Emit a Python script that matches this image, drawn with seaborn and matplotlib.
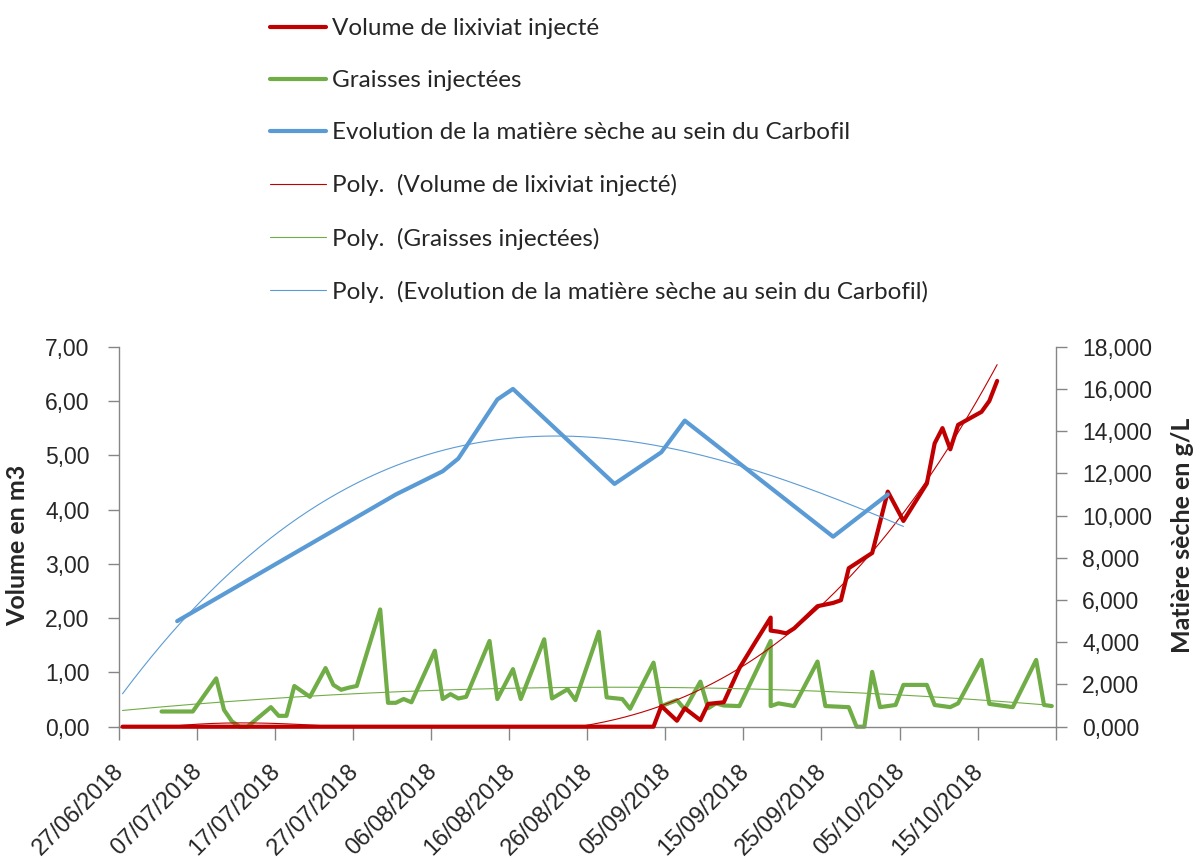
import numpy as np
import pandas as pd
import matplotlib
matplotlib.use("Agg")
import matplotlib.pyplot as plt
import matplotlib.transforms as mtransforms
from matplotlib.lines import Line2D
import seaborn as sns

# ---------------- data ----------------
START = "2018-06-27"

# Graisses injectées (m3) : day offset from 27/06/2018, value
graisses_days = [5, 9, 12, 13, 14, 15, 16, 19, 20, 21, 22, 24, 26, 27, 28, 29, 30,
                 33, 34, 35, 36, 37, 40, 41, 42, 43, 44, 47, 48, 50, 51, 54, 55, 57,
                 58, 61, 62, 64, 65, 68, 69, 71, 72, 74, 75, 76, 77, 79, 83, 83, 84,
                 86, 89, 90, 93, 94, 95, 96, 97, 99, 100, 103, 104, 106, 107, 110,
                 111, 112, 114, 117, 118, 119]
graisses_vals = [0.28, 0.28, 0.89, 0.31, 0.10, 0.00, 0.00, 0.36, 0.20, 0.20, 0.75,
                 0.55, 1.08, 0.77, 0.68, 0.72, 0.75, 2.16, 0.44, 0.44, 0.51, 0.45,
                 1.40, 0.51, 0.60, 0.52, 0.55, 1.58, 0.51, 1.06, 0.51, 1.61, 0.52,
                 0.69, 0.49, 1.75, 0.54, 0.51, 0.33, 1.18, 0.38, 0.49, 0.32, 0.83,
                 0.34, 0.43, 0.39, 0.38, 1.58, 0.38, 0.43, 0.38, 1.20, 0.38, 0.36,
                 0.00, 0.00, 1.01, 0.36, 0.40, 0.77, 0.77, 0.40, 0.36, 0.43, 1.23,
                 0.42, 0.40, 0.36, 1.23, 0.40, 0.38]

# Volume de lixiviat injecté (m3)
lixiviat_days = [0, 5, 9, 12, 13, 14, 15, 16, 19, 20, 21, 22, 24, 26, 27, 28, 29, 30,
                 33, 34, 35, 36, 37, 40, 41, 42, 43, 44, 47, 48, 50, 51, 54, 55, 57,
                 58, 61, 62, 64, 65, 68, 69, 71, 72, 74, 75, 77, 79, 81, 83, 83, 84,
                 85, 86, 89, 91, 92, 93, 96, 98, 100, 103, 104, 105, 106, 107, 110,
                 111, 112]
lixiviat_vals = [0.0] * 41 + [0.38, 0.11, 0.34, 0.12, 0.42, 0.45, 1.08, 1.55, 2.01,
                              1.77, 1.75, 1.72, 1.81, 2.22, 2.28, 2.33, 2.92, 3.20,
                              4.33, 3.79, 4.48, 5.22, 5.50, 5.11, 5.56, 5.80, 6.00,
                              6.37]

# Evolution de la matière sèche au sein du Carbofil (g/L)
ms_days = [7, 35, 41, 43, 48, 50, 63, 69, 72, 91, 98]
ms_vals = [5000, 11000, 12100, 12700, 15500, 16000, 11500, 13000, 14500, 9000, 11000]

LEFT_TICKS = [0, 1, 2, 3, 4, 5, 6, 7]
LEFT_TICK_LABELS = ["0,00", "1,00", "2,00", "3,00", "4,00", "5,00", "6,00", "7,00"]
RIGHT_TICKS = [0, 2000, 4000, 6000, 8000, 10000, 12000, 14000, 16000, 18000]
RIGHT_TICK_LABELS = ["0,000", "2,000", "4,000", "6,000", "8,000", "10,000",
                     "12,000", "14,000", "16,000", "18,000"]
X_TICK_DAYS = [0, 10, 20, 30, 40, 50, 60, 70, 80, 90, 100, 110, 120]
X_TICK_LABELS = ["27/06/2018", "07/07/2018", "17/07/2018", "27/07/2018",
                 "06/08/2018", "16/08/2018", "26/08/2018", "05/09/2018",
                 "15/09/2018", "25/09/2018", "05/10/2018", "15/10/2018", ""]

LABELS = ["Volume de lixiviat injecté", "Graisses injectées",
          "Evolution de la matière sèche au sein du Carbofil",
          "Poly.  (Volume de lixiviat injecté)", "Poly.  (Graisses injectées)",
          "Poly.  (Evolution de la matière sèche au sein du Carbofil)"]

RED, GREEN, BLUE = "#C00000", "#70AD47", "#5B9BD5"
SPINE = "#868686"
THICK, THIN = 3.0, 0.8

# ---------------- helpers ----------------
t0 = pd.Timestamp(START)
half = pd.Timedelta(hours=12)  # Excel date axis: points sit in middle of their day


def to_dates(days):
    return t0 + pd.to_timedelta(np.asarray(days, dtype=float), unit="D") + half


def trend(days, vals, deg, d0, d1):
    coef = np.polyfit(np.asarray(days, float), np.asarray(vals, float), deg)
    grid = np.linspace(d0, d1, 400)
    return to_dates(grid), np.polyval(coef, grid)


# ---------------- figure ----------------
sns.set_style("white")
plt.rcParams["font.family"] = ["Liberation Sans", "DejaVu Sans"]

W, H = 1195, 863
fig = plt.figure(figsize=(W / 100, H / 100), dpi=100)
x0, x1, y0, y1 = 118.6, 1055.7, 346.7, 726.7
ax = fig.add_axes([x0 / W, 1 - y1 / H, (x1 - x0) / W, (y1 - y0) / H])
ax2 = ax.twinx()

# main series
sns.lineplot(x=to_dates(lixiviat_days), y=lixiviat_vals, ax=ax, color=RED,
             linewidth=THICK, estimator=None, sort=False, clip_on=False, zorder=3)
sns.lineplot(x=to_dates(graisses_days), y=graisses_vals, ax=ax, color=GREEN,
             linewidth=THICK, estimator=None, sort=False, clip_on=False, zorder=2)
sns.lineplot(x=to_dates(ms_days), y=ms_vals, ax=ax2, color=BLUE,
             linewidth=THICK, estimator=None, sort=False, clip_on=False, zorder=2)

# polynomial trend lines
tx, ty = trend(lixiviat_days, lixiviat_vals, 3, 0, lixiviat_days[-1])
sns.lineplot(x=tx, y=ty, ax=ax, color=RED, linewidth=THIN, estimator=None,
             sort=False, zorder=4)
tx, ty = trend(graisses_days, graisses_vals, 2, 0, graisses_days[-1])
sns.lineplot(x=tx, y=ty, ax=ax, color=GREEN, linewidth=THIN, estimator=None,
             sort=False, zorder=4)
tx, ty = trend(ms_days, ms_vals, 3, 0, 100)
sns.lineplot(x=tx, y=ty, ax=ax2, color=BLUE, linewidth=THIN, estimator=None,
             sort=False, zorder=4)

for a in (ax, ax2):
    lg = a.get_legend()
    if lg is not None:
        lg.remove()

# axes ranges and ticks
ax.set_xlim(to_dates([0])[0] - half, to_dates([120])[0] - half)
ax.set_ylim(0, 7)
ax2.set_ylim(0, 18000)
ax.set_xticks(to_dates(X_TICK_DAYS) - half)
ax.set_xticklabels(X_TICK_LABELS, rotation=45, ha="right")
ax.set_yticks(LEFT_TICKS)
ax.set_yticklabels(LEFT_TICK_LABELS)
ax2.set_yticks(RIGHT_TICKS)
ax2.set_yticklabels(RIGHT_TICK_LABELS)

ax.tick_params(axis="x", direction="out", length=9, width=1.0, color=SPINE,
               labelsize=17, pad=15, bottom=True)
ax.tick_params(axis="y", direction="out", length=8, width=1.0, color=SPINE,
               labelsize=16.5, pad=13, left=True)
ax2.tick_params(axis="y", direction="out", length=8, width=1.0, color=SPINE,
                labelsize=16.5, pad=11, right=True)

off = mtransforms.ScaledTranslation(10 / 100, 0, fig.dpi_scale_trans)
for lbl in ax.get_xticklabels():
    lbl.set_transform(lbl.get_transform() + off)

for s in ("top", "right"):
    ax.spines[s].set_visible(False)
for s in ("left", "bottom"):
    ax.spines[s].set_color(SPINE)
    ax.spines[s].set_linewidth(1.0)
for s in ("top", "left", "bottom"):
    ax2.spines[s].set_visible(False)
ax2.spines["right"].set_color(SPINE)
ax2.spines["right"].set_linewidth(1.0)
ax.grid(False)
ax2.grid(False)

ax.set_xlabel("")
ax.set_ylabel("")
ax2.set_ylabel("")
fig.text(18 / W, 1 - 545 / H, "Volume en m3", rotation=90, ha="center",
         va="center", fontsize=18, fontweight="bold", family="Lato")
fig.text(1183 / W, 1 - 535 / H, "Matière sèche en g/L", rotation=90,
         ha="center", va="center", fontsize=18, fontweight="bold",
         family="Lato")

handles = [Line2D([], [], color=RED, linewidth=THICK),
           Line2D([], [], color=GREEN, linewidth=THICK),
           Line2D([], [], color=BLUE, linewidth=THICK),
           Line2D([], [], color=RED, linewidth=THIN),
           Line2D([], [], color=GREEN, linewidth=THIN),
           Line2D([], [], color=BLUE, linewidth=THIN)]
fig.legend(handles, LABELS,
           loc="upper left", bbox_to_anchor=(270 / W, 1 - 18 / H),
           frameon=False, prop={"family": "Lato", "size": 17.5},
           handlelength=2.3, handletextpad=0.25, labelspacing=1.28,
           borderaxespad=0, borderpad=0)

fig.savefig("out.png", dpi=100)
